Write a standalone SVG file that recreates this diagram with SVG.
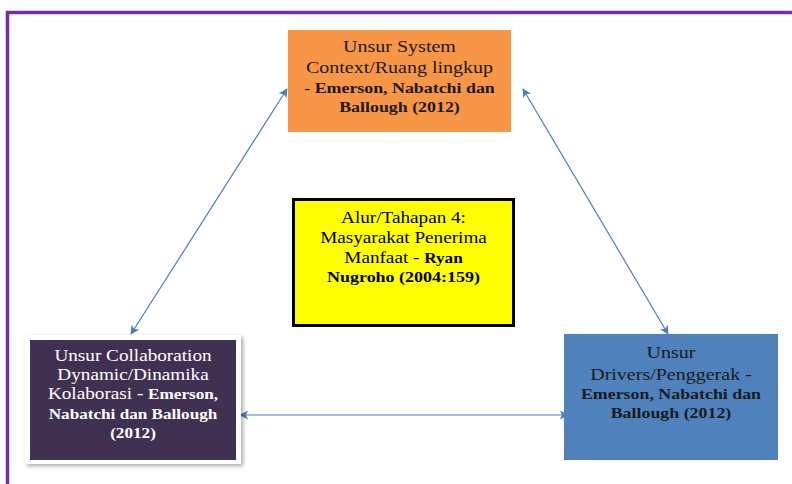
<svg xmlns="http://www.w3.org/2000/svg" width="792" height="484" viewBox="0 0 792 484">
  <style>
    .t { font-family: "Liberation Serif", "Times New Roman", serif; text-anchor: middle; }
    .r { font-size: 16px; }
    .b { font-size: 14.3px; font-weight: bold; }
    .conn { stroke: #4A7EBB; stroke-width: 1.2; fill: none; marker-start: url(#ah); marker-end: url(#ah); }
  </style>
  <defs>
    <marker id="ah" viewBox="0 0 10 10" refX="9" refY="5" markerWidth="10" markerHeight="9" markerUnits="userSpaceOnUse" orient="auto-start-reverse">
      <path d="M0,0 L10,5 L0,10 L2.5,5 Z" fill="#4A7EBB"/>
    </marker>
    <filter id="sh" x="-10%" y="-10%" width="125%" height="125%">
      <feGaussianBlur in="SourceAlpha" stdDeviation="2"/>
      <feOffset dx="2" dy="2" result="o"/>
      <feComponentTransfer><feFuncA type="linear" slope="0.35"/></feComponentTransfer>
      <feMerge><feMergeNode/><feMergeNode in="SourceGraphic"/></feMerge>
    </filter>
  </defs>

  <rect width="792" height="484" fill="#ffffff"/>

  <!-- page frame -->
  <path d="M7.5,484 V12.5 H792" fill="none" stroke="#7030A0" stroke-width="3.5"/>

  <!-- connectors -->
  <g id="connectors">
    <line class="conn" x1="287" y1="89" x2="131" y2="334"/>
    <line class="conn" x1="523" y1="89" x2="668" y2="334"/>
    <line class="conn" x1="240" y1="415" x2="568" y2="415"/>
  </g>

  <!-- system context -->
  <g id="node-context">
    <rect x="288" y="30" width="223" height="102" fill="#F79646"/>
    <g transform="translate(399.5,0) scale(1.25,1)" fill="#1a1a1a">
      <text class="t r" x="0" y="52">Unsur System</text>
      <text class="t r" x="0" y="73">Context/Ruang lingkup</text>
      <text class="t b" x="0" y="93">- Emerson, Nabatchi dan</text>
      <text class="t b" x="0" y="112">Ballough (2012)</text>
    </g>
  </g>

  <!-- stage 4 -->
  <g id="node-stage">
    <rect x="293.5" y="199.5" width="220" height="126" fill="#FFFF00" stroke="#000000" stroke-width="3"/>
    <g transform="translate(403.5,0) scale(1.2,1)" fill="#000000">
      <text class="t r" x="0" y="223">Alur/Tahapan 4:</text>
      <text class="t r" x="0" y="243">Masyarakat Penerima</text>
      <text class="t" x="0" y="263"><tspan class="r">Manfaat - </tspan><tspan class="b" font-size="15">Ryan</tspan></text>
      <text class="t b" x="0" y="282" style="font-size:15px">Nugroho (2004:159)</text>
    </g>
  </g>

  <!-- collaboration dynamics -->
  <g id="node-collab">
    <rect x="25" y="335" width="216" height="129" fill="#ffffff" filter="url(#sh)"/>
    <rect x="30" y="340" width="206" height="120" fill="#403152"/>
    <g transform="translate(133,0) scale(1.2,1)" fill="#ffffff">
      <text class="t r" x="0" y="361">Unsur Collaboration</text>
      <text class="t r" x="0" y="380">Dynamic/Dinamika</text>
      <text class="t" x="0" y="399"><tspan class="r">Kolaborasi - </tspan><tspan class="b">Emerson,</tspan></text>
      <text class="t b" x="0" y="419">Nabatchi dan Ballough</text>
      <text class="t b" x="0" y="438">(2012)</text>
    </g>
  </g>

  <!-- drivers -->
  <g id="node-drivers">
    <rect x="564" y="334" width="214" height="126" fill="#4F81BD"/>
    <g transform="translate(671,0) scale(1.25,1)" fill="#1a1a1a">
      <text class="t r" x="0" y="358">Unsur</text>
      <text class="t r" x="0" y="380">Drivers/Penggerak -</text>
      <text class="t b" x="0" y="399">Emerson, Nabatchi dan</text>
      <text class="t b" x="0" y="418">Ballough (2012)</text>
    </g>
  </g>
</svg>
